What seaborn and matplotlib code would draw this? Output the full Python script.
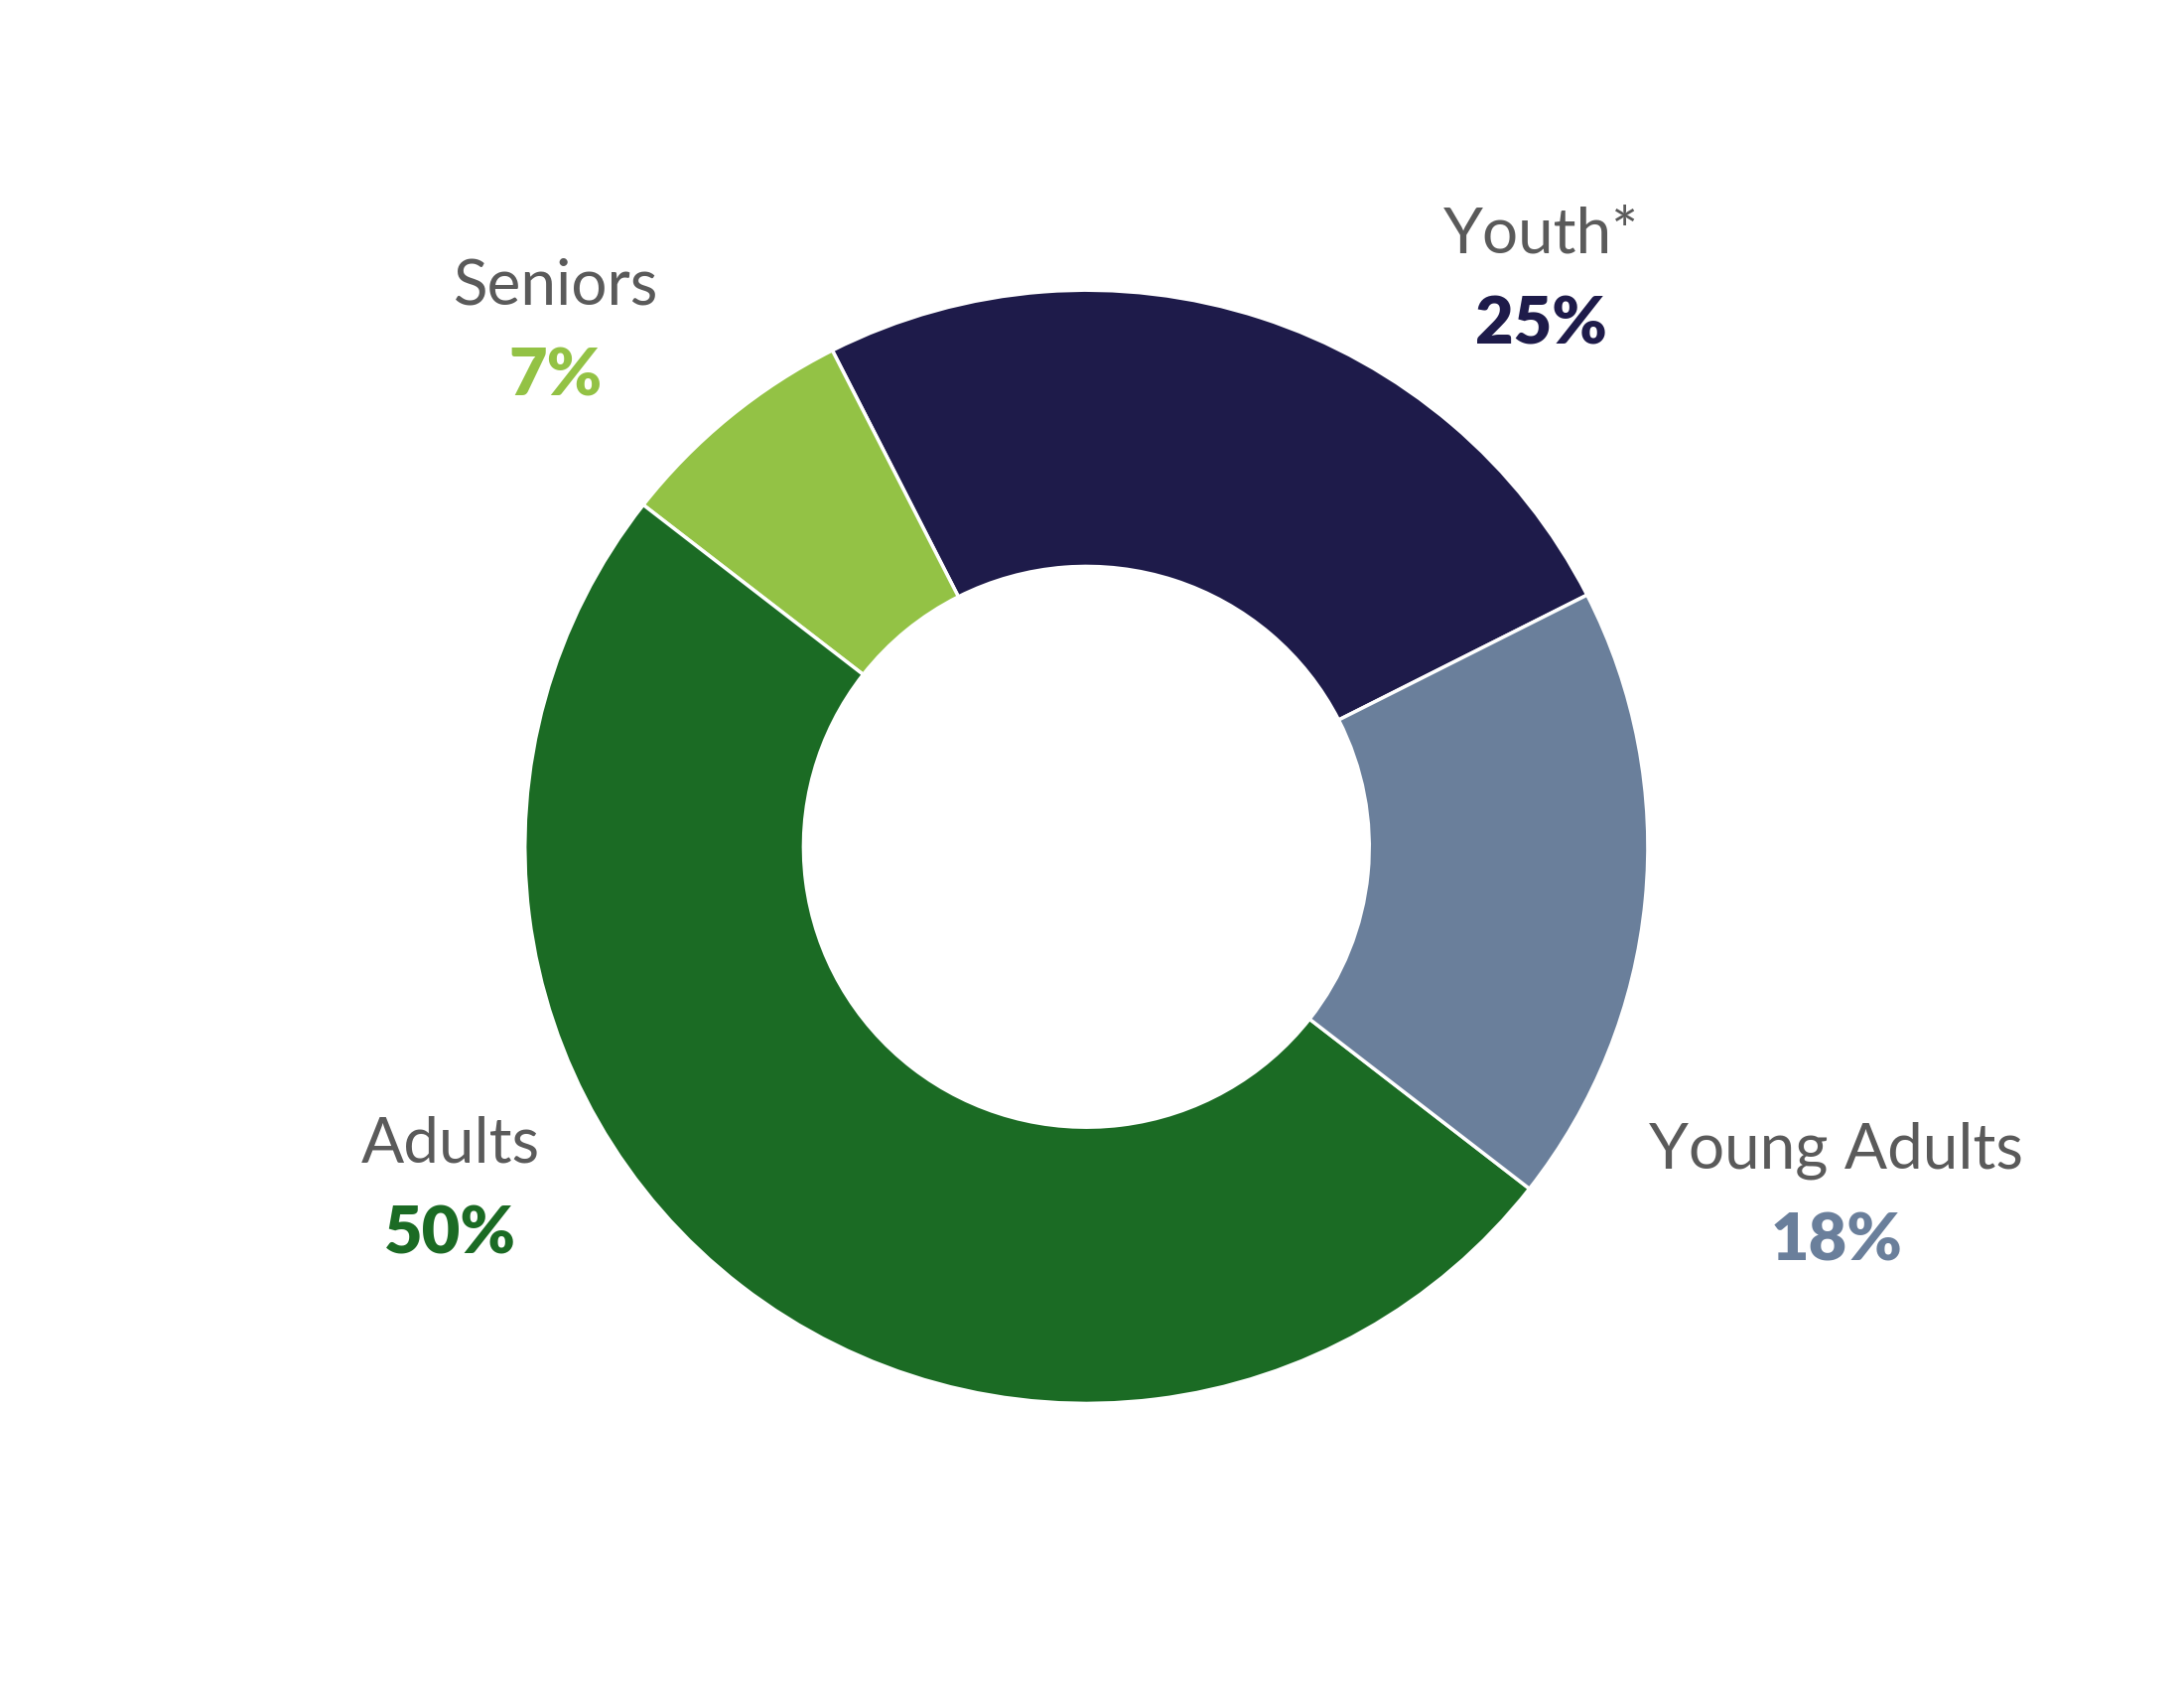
import matplotlib.pyplot as plt
import seaborn as sns

# data
groups = ["Youth*", "Seniors", "Adults", "Young Adults"]
shares = [25, 7, 50, 18]
colors = ["#1e1b4a", "#93c245", "#1b6b24", "#6a7f9b"]
label_pos = [(1095, 168), (395, 205), (320, 820), (1305, 825)]

W, H = 1552, 1210

sns.set_theme(style="white")
fig = plt.figure(figsize=(22, 17), dpi=100)
ax = fig.add_axes([0, 0, 1, 1])

ax.pie(shares, colors=colors, startangle=26.9, counterclock=True,
       center=(772, H - 607), radius=399, frame=True,
       wedgeprops=dict(width=198, edgecolor="white", linewidth=2.5))
ax.set_xlim(0, W)
ax.set_ylim(0, H)
ax.set_aspect("auto")
ax.axis("off")

for g, s, c, (x, y) in zip(groups, shares, colors, label_pos):
    ax.text(x, H - y, g, ha="center", va="center", fontsize=46,
            family="Lato", fontweight="normal", color="#5a5a5a")
    ax.text(x, H - y - 65, f"{s}%", ha="center", va="center", fontsize=48,
            family="Lato", fontweight="heavy", color=c)

fig.savefig("out.png", dpi=100, facecolor="white")
